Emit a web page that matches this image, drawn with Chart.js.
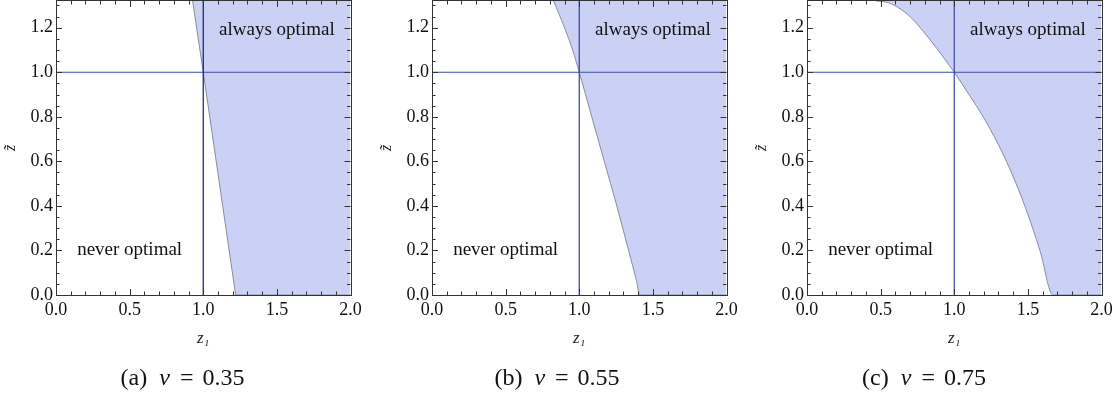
<!DOCTYPE html>
<html><head><meta charset="utf-8">
<script src="https://cdn.jsdelivr.net/npm/chart.js@4"></script>
<style>
html,body{margin:0;padding:0;background:#fff;width:1119px;height:398px;overflow:hidden;position:relative}
canvas.panel{position:absolute;top:0}
.cap{position:absolute;top:363px;font-family:'Liberation Serif',serif;font-size:24px;color:#111;white-space:nowrap;transform:translateX(-50%);line-height:28px}
.cap i{font-style:italic}
</style></head><body>
<script>
// ---- data ----
const z1Ticks = [0, 0.5, 1.0, 1.5, 2.0];
const zTildeTicks = [0, 0.2, 0.4, 0.6, 0.8, 1.0, 1.2];
const vValues = [0.35, 0.55, 0.75];
const panelLetters = ['a', 'b', 'c'];
const regionLabels = ['always optimal', 'never optimal'];
const xAxisTitle = 'z\u2081';
const yAxisTitle = 'z\u0303';

// boundary curves (z1, z~) for each v
const boundaryA_z1 = [0.928, 1.0, 1.22, 2.0];
const boundaryA_zt = [1.32, 1.0, 0.0, 0.0];
const boundaryB_z1 = [0.826, 0.90, 0.955, 1.0, 1.085, 1.17, 1.255, 1.335, 1.39, 1.41, 2.0];
const boundaryB_zt = [1.32, 1.2, 1.1, 1.0, 0.8, 0.6, 0.4, 0.2, 0.06, 0.0, 0.0];
const boundaryC_z1 = [0.47, 0.55, 0.62, 0.70, 0.769, 0.88, 1.0, 1.10, 1.21, 1.358, 1.482, 1.584, 1.67, 2.0];
const boundaryC_zt = [1.32, 1.313, 1.29, 1.25, 1.20, 1.108, 1.0, 0.90, 0.785, 0.595, 0.395, 0.195, 0.0, 0.0];

// ---- layout / style ----
const Y_MAX = 1.32;
const canvasLefts = [0, 376, 751];
const captionCenters = [182.5, 557, 924];
const curves = [[boundaryA_z1, boundaryA_zt], [boundaryB_z1, boundaryB_zt], [boundaryC_z1, boundaryC_zt]];
const interp = ['default', 'monotone', 'monotone'];
const vLineColors = ['#14196e', '#2f3ca2', '#3844a8'];
const hLineColor = '#3d4aaa';
const FILL = '#cad1f4';
const SERIF = "'Liberation Serif', 'Times New Roman', serif";

const framePlugin = {
  id: 'frameTicks',
  afterDatasetsDraw(chart) {
    const {ctx, chartArea: a, scales: {x, y}} = chart;
    ctx.save();
    ctx.strokeStyle = '#333';
    ctx.lineWidth = 1;
    const line = (x1, y1, x2, y2) => { ctx.beginPath(); ctx.moveTo(x1, y1); ctx.lineTo(x2, y2); ctx.stroke(); };
    for (let i = 0; i <= 20; i++) {
      const v = i * 0.1;
      const major = i % 5 === 0;
      const len = major ? 6 : 3.5;
      const px = Math.round(x.getPixelForValue(v)) + 0.5;
      line(px, a.bottom, px, a.bottom - len);
      line(px, a.top, px, a.top + len);
    }
    for (let i = 0; i * 0.05 <= Y_MAX + 1e-9; i++) {
      const v = i * 0.05;
      const major = i % 4 === 0;
      const len = major ? 6 : 3.5;
      const py = Math.round(y.getPixelForValue(v)) + 0.5;
      line(a.left, py, a.left + len, py);
      line(a.right, py, a.right - len, py);
    }
    ctx.strokeRect(Math.round(a.left) + 0.5, Math.round(a.top) - 0.5, Math.round(a.right - a.left), Math.round(a.bottom - a.top) + 1);
    ctx.restore();
  }
};

const textPlugin = {
  id: 'regionText',
  afterDatasetsDraw(chart) {
    const {ctx, scales: {x, y}} = chart;
    ctx.save();
    ctx.fillStyle = '#111';
    ctx.font = '19px ' + SERIF;
    ctx.textAlign = 'center';
    ctx.textBaseline = 'middle';
    ctx.fillText(regionLabels[0], x.getPixelForValue(1.5), y.getPixelForValue(1.19));
    ctx.fillText(regionLabels[1], x.getPixelForValue(0.5), y.getPixelForValue(0.2));
    ctx.restore();
  }
};

curves.forEach((c, idx) => {
  const cv = document.createElement('canvas');
  cv.className = 'panel';
  cv.width = 368; cv.height = 398;
  cv.style.left = canvasLefts[idx] + 'px';
  cv.style.width = '368px'; cv.style.height = '398px';
  document.body.appendChild(cv);

  const [bz1, bzt] = c;
  new Chart(cv, {
    type: 'line',
    data: {
      datasets: [
        {
          label: 'v line', data: [{x: 1, y: 0}, {x: 1, y: Y_MAX}],
          borderColor: vLineColors[idx], borderWidth: 1.2, pointRadius: 0, fill: false, order: 1
        },
        {
          label: 'h line', data: [{x: 0, y: 1}, {x: 2, y: 1}],
          borderColor: hLineColor, borderWidth: 1.2, pointRadius: 0, fill: false, order: 2
        },
        {
          label: 'boundary', data: bz1.map((v, i) => ({x: v, y: bzt[i]})),
          borderColor: '#8a8c9c', borderWidth: 1, backgroundColor: FILL, fill: 'end',
          pointRadius: 0, cubicInterpolationMode: interp[idx], tension: 0, order: 3
        }
      ]
    },
    options: {
      responsive: false, animation: false, devicePixelRatio: 1,
      events: [],
      plugins: {legend: {display: false}, tooltip: {enabled: false}},
      layout: {padding: {left: 0, top: 1, right: 17.5, bottom: 0}},
      scales: {
        x: {
          type: 'linear', min: 0, max: 2,
          afterBuildTicks: s => { s.ticks = z1Ticks.map(v => ({value: v})); },
          afterFit: s => { s.height = 103; s.paddingLeft = 0; s.paddingRight = 0; },
          grid: {display: false, drawTicks: false}, border: {display: false},
          ticks: {padding: 4, autoSkip: false, maxRotation: 0, color: '#111',
                  font: {family: SERIF, size: 18}, callback: v => Number(v).toFixed(1)},
          title: {display: true, text: xAxisTitle, color: '#222',
                  font: {family: SERIF, size: 17, style: 'italic'}, padding: {top: 0, bottom: 49}}
        },
        y: {
          type: 'linear', min: 0, max: Y_MAX,
          afterBuildTicks: s => { s.ticks = zTildeTicks.map(v => ({value: v})); },
          afterFit: s => { s.width = 56; s.paddingTop = 0; s.paddingBottom = 0; },
          grid: {display: false, drawTicks: false}, border: {display: false},
          ticks: {padding: 3, autoSkip: false, color: '#111',
                  font: {family: SERIF, size: 18}, callback: v => Number(v).toFixed(1)},
          title: {display: true, text: yAxisTitle, color: '#222',
                  font: {family: SERIF, size: 16, style: 'italic'}, padding: {top: 1, bottom: 0}}
        }
      }
    },
    plugins: [framePlugin, textPlugin]
  });

  const cap = document.createElement('div');
  cap.className = 'cap';
  cap.style.left = captionCenters[idx] + 'px';
  cap.innerHTML = '(' + panelLetters[idx] + ')<span style="margin-left:12px"><i>v</i></span><span style="margin-left:10px">=</span><span style="margin-left:9px">' + vValues[idx].toFixed(2) + '</span>';
  document.body.appendChild(cap);
});
</script>
</body></html>
